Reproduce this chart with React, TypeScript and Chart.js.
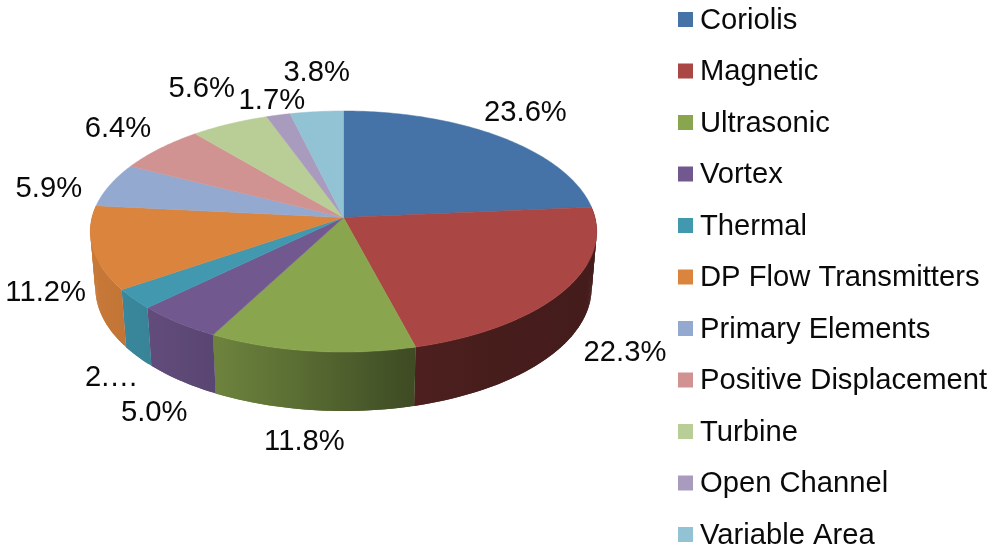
import React, { useEffect, useRef } from "react";
import { Chart, registerables } from "chart.js";

Chart.register(...registerables);

const categories = [
  "Coriolis",
  "Magnetic",
  "Ultrasonic",
  "Vortex",
  "Thermal",
  "DP Flow Transmitters",
  "Primary Elements",
  "Positive Displacement",
  "Turbine",
  "Open Channel",
  "Variable Area",
];
const shares = [23.6, 22.3, 11.8, 5.0, 2.7, 11.2, 5.9, 6.4, 5.6, 1.7, 3.8];
const sliceLabels = ["23.6%", "22.3%", "11.8%", "5.0%", "2.…", "11.2%", "5.9%", "6.4%", "5.6%", "1.7%", "3.8%"];
const colors = [
  "#4572A7",
  "#AA4643",
  "#89A54E",
  "#71588F",
  "#4198AF",
  "#DB843D",
  "#93A9CF",
  "#D19392",
  "#B9CD96",
  "#A99BBD",
  "#92C3D4",
];
// Label offset from the rim point at each slice's middle angle.
const labelOffsetX = [25.5, 61, -7, -23.5, -22, -47, -61, -42, -28, -6.5, 0];
const labelOffsetY = [-24, 62, 91, 90, 79, 45, 4, -20, -35, -14, -39];

const FONT = '29.2px "Liberation Sans", Arial, sans-serif';
const TEXT = "#0a0a0a";

// Perspective of the disc, relative to the library's arc radius.
const WIDTH_RATIO = 251.5 / 217.5;
const HEIGHT_RATIO = 118.9 / 217.5;
const TILT = 0.1162;
const DEPTH = 56;
const BASE_SCALE_X = 0.98;
const BASE_SCALE_Y = 1.022;
const WALL_FROM = -0.09;
const WALL_TO = 3.24;
const SHADE_LEFT = 90;
const SHADE_RIGHT = 598;
const SHADE = [
  [0, 0.92],
  [0.24, 0.8],
  [0.41, 0.66],
  [0.63, 0.46],
  [0.8, 0.41],
  [1, 0.4],
];

const LEGEND_X = 678;
const LEGEND_TEXT_X = 700;
const LEGEND_Y = 19.5;
const LEGEND_STEP = 51.5;
const LEGEND_BOX = 15;
const LEGEND_TEXT_DY = 1;

function shade(hex: string, f: number) {
  const n = parseInt(hex.slice(1), 16);
  const r = Math.round(((n >> 16) & 255) * f);
  const g = Math.round(((n >> 8) & 255) * f);
  const b = Math.round((n & 255) * f);
  return `rgb(${r},${g},${b})`;
}

function project(arc: any, angle: number, base = false) {
  const r = arc.outerRadius;
  const u = Math.cos(angle);
  const v = Math.sin(angle);
  const d = 1 - TILT * v;
  const sx = base ? BASE_SCALE_X : 1;
  const sy = base ? BASE_SCALE_Y : 1;
  return {
    x: arc.x + (sx * r * WIDTH_RATIO * u) / d,
    y: arc.y + (base ? DEPTH : 0) + (sy * r * HEIGHT_RATIO * v) / d,
  };
}

function anglesBetween(a: number, b: number) {
  const n = Math.max(2, Math.ceil(Math.abs(b - a) / 0.015));
  const list: number[] = [];
  for (let i = 0; i <= n; i++) list.push(a + ((b - a) * i) / n);
  return list;
}

const pie3d = {
  id: "pie3d",
  beforeDatasetDraw(chart: any, args: any) {
    const { ctx } = chart;
    const arcs = args.meta.data;
    ctx.save();
    arcs.forEach((arc: any, i: number) => {
      const from = Math.max(arc.startAngle, WALL_FROM);
      const to = Math.min(arc.endAngle, WALL_TO);
      if (to <= from) return;
      const grad = ctx.createLinearGradient(SHADE_LEFT, 0, SHADE_RIGHT, 0);
      SHADE.forEach(([p, f]) => grad.addColorStop(p, shade(colors[i], f)));
      ctx.fillStyle = grad;
      const list = anglesBetween(from, to);
      for (let k = 0; k < list.length - 1; k++) {
        // Each strip overlaps the next one, so no seam shows between them.
        const next = list[Math.min(k + 2, list.length - 1)];
        const a = project(arc, list[k]);
        const b = project(arc, next);
        const c = project(arc, next, true);
        const d = project(arc, list[k], true);
        ctx.beginPath();
        ctx.moveTo(a.x, a.y);
        ctx.lineTo(b.x, b.y);
        ctx.lineTo(c.x, c.y);
        ctx.lineTo(d.x, d.y);
        ctx.closePath();
        ctx.fill();
      }
    });
    arcs.forEach((arc: any, i: number) => {
      ctx.beginPath();
      ctx.moveTo(arc.x, arc.y);
      anglesBetween(arc.startAngle, arc.endAngle).forEach((a) => {
        const p = project(arc, a);
        ctx.lineTo(p.x, p.y);
      });
      ctx.closePath();
      ctx.fillStyle = colors[i];
      ctx.strokeStyle = colors[i];
      ctx.lineWidth = 0.5;
      ctx.fill();
      ctx.stroke();
    });
    ctx.restore();
    return false;
  },
  afterDatasetsDraw(chart: any) {
    const { ctx } = chart;
    const arcs = chart.getDatasetMeta(0).data;
    ctx.save();
    ctx.font = FONT;
    ctx.fillStyle = TEXT;
    ctx.textBaseline = "middle";
    ctx.textAlign = "center";
    arcs.forEach((arc: any, i: number) => {
      const p = project(arc, (arc.startAngle + arc.endAngle) / 2);
      ctx.fillText(sliceLabels[i], p.x + labelOffsetX[i], p.y + labelOffsetY[i]);
    });
    ctx.textAlign = "left";
    categories.forEach((name, i) => {
      const y = LEGEND_Y + i * LEGEND_STEP;
      ctx.fillStyle = colors[i];
      ctx.fillRect(LEGEND_X, y - LEGEND_BOX / 2, LEGEND_BOX, LEGEND_BOX);
      ctx.fillStyle = TEXT;
      ctx.fillText(name, LEGEND_TEXT_X, y + LEGEND_TEXT_DY);
    });
    ctx.restore();
  },
};

export default function App() {
  const ref = useRef<HTMLCanvasElement>(null);
  useEffect(() => {
    const chart = new Chart(ref.current as HTMLCanvasElement, {
      type: "pie",
      data: {
        labels: categories,
        datasets: [{ data: shares, backgroundColor: colors, borderWidth: 0 }],
      },
      options: {
        responsive: false,
        animation: false,
        layout: { padding: { right: 305, bottom: 113 } },
        plugins: { legend: { display: false }, tooltip: { enabled: false } },
      },
      plugins: [pie3d],
    } as any);
    return () => chart.destroy();
  }, []);
  return (
    <div style={{ position: "fixed", left: 0, top: 0, width: 992, height: 548, background: "#fff" }}>
      <canvas ref={ref} width={992} height={548} style={{ display: "block" }} />
    </div>
  );
}
